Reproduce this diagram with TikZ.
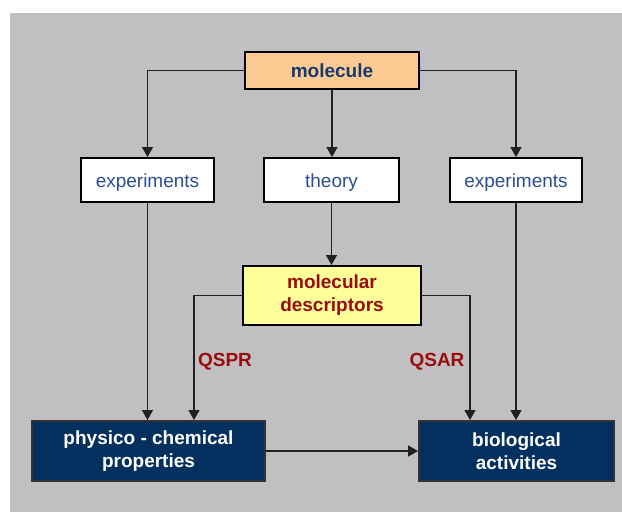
\documentclass[tikz,border=0pt]{standalone}
\usepackage{fontspec}
\setmainfont{Liberation Sans}
\usetikzlibrary{arrows.meta}
\definecolor{bggray}{HTML}{C0C0C2}
\definecolor{peach}{HTML}{FCCB94}
\definecolor{paleyellow}{HTML}{FFFF99}
\definecolor{navy}{HTML}{03305F}
\definecolor{txtblue}{HTML}{2A4F93}
\definecolor{moltxt}{HTML}{17396B}
\definecolor{darkred}{HTML}{9A0C0C}
\definecolor{linegray}{HTML}{202020}
\tikzset{
  box/.style={draw=black, line width=2pt, inner sep=2pt, align=center,
    font=\fontsize{19}{23}\selectfont},
  molbox/.style={box, fill=peach, text=moltxt, font=\fontsize{19}{23}\selectfont\bfseries},
  whitebox/.style={box, fill=white, text=txtblue, text height=14pt, text depth=0pt},
  descbox/.style={box, fill=paleyellow, text=darkred, font=\fontsize{19}{23}\selectfont\bfseries},
  navybox/.style={box, draw=black!80, fill=navy, text=white, font=\fontsize{19}{22.5}\selectfont\bfseries},
  conn/.style={draw=linegray, line width=1.5pt},
  arr/.style={conn, -{Triangle[width=11pt,length=10pt]}},
  qlabel/.style={text=darkred, font=\fontsize{19}{22}\selectfont\bfseries, inner sep=0pt}
}
\begin{document}
\begin{tikzpicture}[x=1pt, y=-1pt]
\useasboundingbox (0,0) rectangle (622,512);
\fill[white] (0,0) rectangle (622,512);
\fill[bggray] (10,13) rectangle (622,512);

\node[molbox, minimum width=174pt, minimum height=37pt] (mol) at (332,70.5) {molecule};
\node[whitebox, minimum width=133pt, minimum height=44pt] (exp1) at (147.5,180) {experiments};
\node[whitebox, minimum width=135pt, minimum height=44pt] (theory) at (331.5,180) {theory};
\node[whitebox, minimum width=132pt, minimum height=44pt] (exp2) at (516,180) {experiments};
\node[descbox, minimum width=178pt, minimum height=59pt] (desc) at (332,295.5) {molecular\\descriptors};
\node[navybox, minimum width=233pt, minimum height=60pt] (phys) at (148.5,451) {physico - chemical\\properties};
\node[navybox, minimum width=195pt, minimum height=60pt] (bio) at (516.5,451) {biological\\activities};

\node[qlabel] (qspr) at (225,362) {QSPR};
\node[qlabel] (qsar) at (437,362) {QSAR};

\coordinate (physin) at ([xshift=45.5pt]phys.north);
\coordinate (bioin) at ([xshift=-46.5pt]bio.north);

\draw[arr] (mol.west) -| (exp1.north);
\draw[arr] (mol.east) -| (exp2.north);
\draw[arr] (mol.south) -- (mol.south |- theory.north);
\draw[arr] (theory.south) -- (theory.south |- desc.north);
\draw[arr] (exp1.south) -- (exp1.south |- phys.north);
\draw[arr] (exp2.south) -- (exp2.south |- bio.north);
\draw[arr] (desc.west) -| (physin);
\draw[arr] (desc.east) -| (bioin);
\draw[arr] (phys.east) -- (bio.west);
\end{tikzpicture}
\end{document}
